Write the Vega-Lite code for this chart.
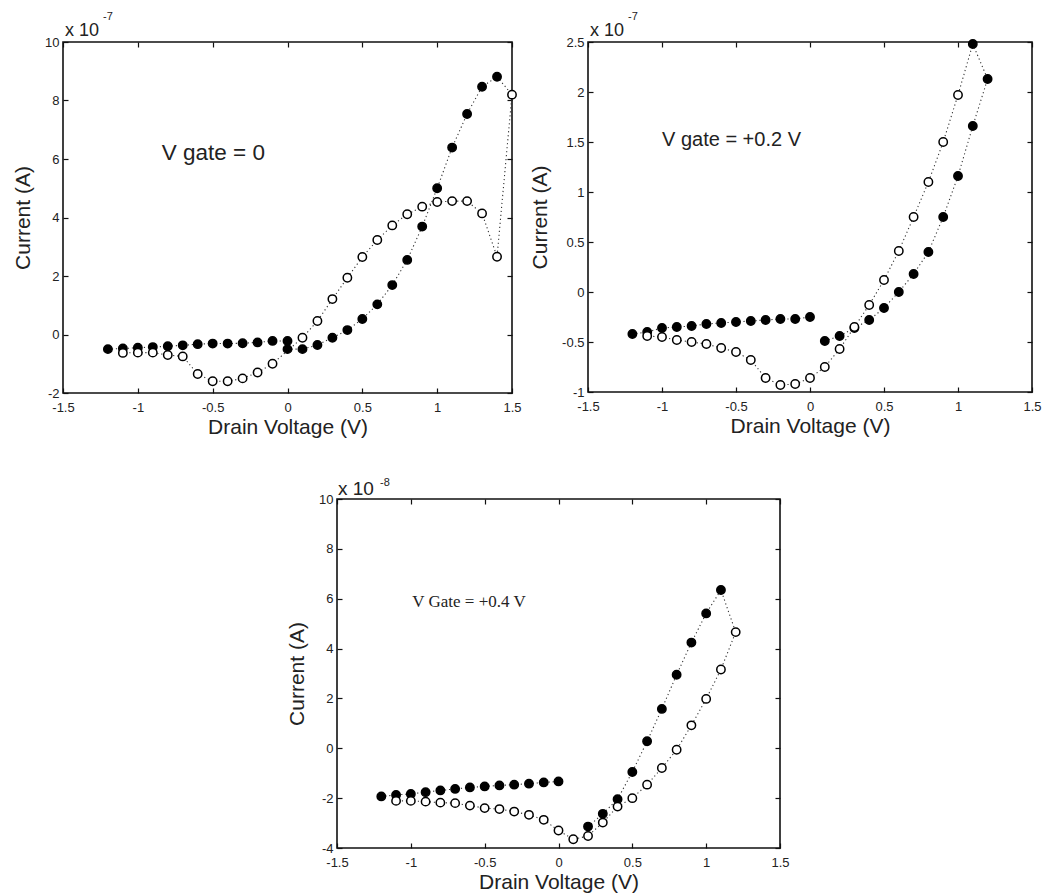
{
  "$schema": "https://vega.github.io/schema/vega-lite/v6.json",
  "background": "white",
  "padding": {"left": 11, "top": 10, "right": 2, "bottom": 2},
  "config": {
    "view": {"stroke": "#111", "strokeWidth": 1.6},
    "axis": {"grid": false, "domain": false, "tickColor": "#111", "tickSize": -5, "tickWidth": 1.2,
      "labelFont": "Liberation Sans", "labelFontSize": 13, "labelColor": "#222",
      "labelFlush": false, "labelOverlap": false,
      "titleFont": "Liberation Sans", "titleFontSize": 21, "titleFontWeight": "normal", "titleColor": "#222"},
    "axisX": {"titlePadding": 2, "labelPadding": 13},
    "axisY": {"titlePadding": 11, "labelPadding": 9},
    "text": {"font": "Liberation Sans", "color": "#222"}
  },
  "datasets": {
    "iv": [
      {"panel":"A","seg":"A1","ord":1,"voltage":-1.2,"current":-0.50,"sweep":"forward"},
      {"panel":"A","seg":"A1","ord":2,"voltage":-1.1,"current":-0.48,"sweep":"forward"},
      {"panel":"A","seg":"A1","ord":3,"voltage":-1.0,"current":-0.45,"sweep":"forward"},
      {"panel":"A","seg":"A1","ord":4,"voltage":-0.9,"current":-0.43,"sweep":"forward"},
      {"panel":"A","seg":"A1","ord":5,"voltage":-0.8,"current":-0.40,"sweep":"forward"},
      {"panel":"A","seg":"A1","ord":6,"voltage":-0.7,"current":-0.37,"sweep":"forward"},
      {"panel":"A","seg":"A1","ord":7,"voltage":-0.6,"current":-0.33,"sweep":"forward"},
      {"panel":"A","seg":"A1","ord":8,"voltage":-0.5,"current":-0.31,"sweep":"forward"},
      {"panel":"A","seg":"A1","ord":9,"voltage":-0.4,"current":-0.31,"sweep":"forward"},
      {"panel":"A","seg":"A1","ord":10,"voltage":-0.3,"current":-0.30,"sweep":"forward"},
      {"panel":"A","seg":"A1","ord":11,"voltage":-0.2,"current":-0.27,"sweep":"forward"},
      {"panel":"A","seg":"A1","ord":12,"voltage":-0.1,"current":-0.22,"sweep":"forward"},
      {"panel":"A","seg":"A1","ord":13,"voltage":0.0,"current":-0.22,"sweep":"forward"},
      {"panel":"A","seg":"A2","ord":1,"voltage":0.0,"current":-0.50,"sweep":"forward"},
      {"panel":"A","seg":"A2","ord":2,"voltage":0.1,"current":-0.50,"sweep":"forward"},
      {"panel":"A","seg":"A2","ord":3,"voltage":0.2,"current":-0.36,"sweep":"forward"},
      {"panel":"A","seg":"A2","ord":4,"voltage":0.3,"current":-0.11,"sweep":"forward"},
      {"panel":"A","seg":"A2","ord":5,"voltage":0.4,"current":0.15,"sweep":"forward"},
      {"panel":"A","seg":"A2","ord":6,"voltage":0.5,"current":0.53,"sweep":"forward"},
      {"panel":"A","seg":"A2","ord":7,"voltage":0.6,"current":1.03,"sweep":"forward"},
      {"panel":"A","seg":"A2","ord":8,"voltage":0.7,"current":1.69,"sweep":"forward"},
      {"panel":"A","seg":"A2","ord":9,"voltage":0.8,"current":2.55,"sweep":"forward"},
      {"panel":"A","seg":"A2","ord":10,"voltage":0.9,"current":3.69,"sweep":"forward"},
      {"panel":"A","seg":"A2","ord":11,"voltage":1.0,"current":5.00,"sweep":"forward"},
      {"panel":"A","seg":"A2","ord":12,"voltage":1.1,"current":6.39,"sweep":"forward"},
      {"panel":"A","seg":"A2","ord":13,"voltage":1.2,"current":7.54,"sweep":"forward"},
      {"panel":"A","seg":"A2","ord":14,"voltage":1.3,"current":8.47,"sweep":"forward"},
      {"panel":"A","seg":"A2","ord":15,"voltage":1.4,"current":8.81,"sweep":"forward"},
      {"panel":"A","seg":"A2","ord":16,"voltage":1.5,"current":8.20,"sweep":"reverse"},
      {"panel":"A","seg":"A2","ord":17,"voltage":1.4,"current":2.66,"sweep":"reverse"},
      {"panel":"A","seg":"A2","ord":18,"voltage":1.3,"current":4.14,"sweep":"reverse"},
      {"panel":"A","seg":"A2","ord":19,"voltage":1.2,"current":4.56,"sweep":"reverse"},
      {"panel":"A","seg":"A2","ord":20,"voltage":1.1,"current":4.56,"sweep":"reverse"},
      {"panel":"A","seg":"A2","ord":21,"voltage":1.0,"current":4.53,"sweep":"reverse"},
      {"panel":"A","seg":"A2","ord":22,"voltage":0.9,"current":4.37,"sweep":"reverse"},
      {"panel":"A","seg":"A2","ord":23,"voltage":0.8,"current":4.11,"sweep":"reverse"},
      {"panel":"A","seg":"A2","ord":24,"voltage":0.7,"current":3.73,"sweep":"reverse"},
      {"panel":"A","seg":"A2","ord":25,"voltage":0.6,"current":3.23,"sweep":"reverse"},
      {"panel":"A","seg":"A2","ord":26,"voltage":0.5,"current":2.65,"sweep":"reverse"},
      {"panel":"A","seg":"A2","ord":27,"voltage":0.4,"current":1.94,"sweep":"reverse"},
      {"panel":"A","seg":"A2","ord":28,"voltage":0.3,"current":1.21,"sweep":"reverse"},
      {"panel":"A","seg":"A2","ord":29,"voltage":0.2,"current":0.46,"sweep":"reverse"},
      {"panel":"A","seg":"A2","ord":30,"voltage":0.1,"current":-0.11,"sweep":"reverse"},
      {"panel":"A","seg":"A2","ord":31,"voltage":-0.1,"current":-1.00,"sweep":"reverse"},
      {"panel":"A","seg":"A2","ord":32,"voltage":-0.2,"current":-1.30,"sweep":"reverse"},
      {"panel":"A","seg":"A2","ord":33,"voltage":-0.3,"current":-1.50,"sweep":"reverse"},
      {"panel":"A","seg":"A2","ord":34,"voltage":-0.4,"current":-1.60,"sweep":"reverse"},
      {"panel":"A","seg":"A2","ord":35,"voltage":-0.5,"current":-1.60,"sweep":"reverse"},
      {"panel":"A","seg":"A2","ord":36,"voltage":-0.6,"current":-1.35,"sweep":"reverse"},
      {"panel":"A","seg":"A2","ord":37,"voltage":-0.7,"current":-0.75,"sweep":"reverse"},
      {"panel":"A","seg":"A2","ord":38,"voltage":-0.8,"current":-0.70,"sweep":"reverse"},
      {"panel":"A","seg":"A2","ord":39,"voltage":-0.9,"current":-0.62,"sweep":"reverse"},
      {"panel":"A","seg":"A2","ord":40,"voltage":-1.0,"current":-0.62,"sweep":"reverse"},
      {"panel":"A","seg":"A2","ord":41,"voltage":-1.1,"current":-0.63,"sweep":"reverse"},

      {"panel":"B","seg":"B1","ord":1,"voltage":-1.2,"current":-0.42,"sweep":"forward"},
      {"panel":"B","seg":"B1","ord":2,"voltage":-1.1,"current":-0.40,"sweep":"forward"},
      {"panel":"B","seg":"B1","ord":3,"voltage":-1.0,"current":-0.36,"sweep":"forward"},
      {"panel":"B","seg":"B1","ord":4,"voltage":-0.9,"current":-0.35,"sweep":"forward"},
      {"panel":"B","seg":"B1","ord":5,"voltage":-0.8,"current":-0.34,"sweep":"forward"},
      {"panel":"B","seg":"B1","ord":6,"voltage":-0.7,"current":-0.32,"sweep":"forward"},
      {"panel":"B","seg":"B1","ord":7,"voltage":-0.6,"current":-0.31,"sweep":"forward"},
      {"panel":"B","seg":"B1","ord":8,"voltage":-0.5,"current":-0.30,"sweep":"forward"},
      {"panel":"B","seg":"B1","ord":9,"voltage":-0.4,"current":-0.29,"sweep":"forward"},
      {"panel":"B","seg":"B1","ord":10,"voltage":-0.3,"current":-0.28,"sweep":"forward"},
      {"panel":"B","seg":"B1","ord":11,"voltage":-0.2,"current":-0.27,"sweep":"forward"},
      {"panel":"B","seg":"B1","ord":12,"voltage":-0.1,"current":-0.27,"sweep":"forward"},
      {"panel":"B","seg":"B1","ord":13,"voltage":0.0,"current":-0.25,"sweep":"forward"},
      {"panel":"B","seg":"B2","ord":1,"voltage":0.1,"current":-0.49,"sweep":"forward"},
      {"panel":"B","seg":"B2","ord":2,"voltage":0.2,"current":-0.44,"sweep":"forward"},
      {"panel":"B","seg":"B2","ord":3,"voltage":0.3,"current":-0.36,"sweep":"forward"},
      {"panel":"B","seg":"B2","ord":4,"voltage":0.4,"current":-0.28,"sweep":"forward"},
      {"panel":"B","seg":"B2","ord":5,"voltage":0.5,"current":-0.16,"sweep":"forward"},
      {"panel":"B","seg":"B2","ord":6,"voltage":0.6,"current":0.00,"sweep":"forward"},
      {"panel":"B","seg":"B2","ord":7,"voltage":0.7,"current":0.18,"sweep":"forward"},
      {"panel":"B","seg":"B2","ord":8,"voltage":0.8,"current":0.40,"sweep":"forward"},
      {"panel":"B","seg":"B2","ord":9,"voltage":0.9,"current":0.75,"sweep":"forward"},
      {"panel":"B","seg":"B2","ord":10,"voltage":1.0,"current":1.16,"sweep":"forward"},
      {"panel":"B","seg":"B2","ord":11,"voltage":1.1,"current":1.66,"sweep":"forward"},
      {"panel":"B","seg":"B2","ord":12,"voltage":1.2,"current":2.13,"sweep":"forward"},
      {"panel":"B","seg":"B2","ord":13,"voltage":1.1,"current":2.48,"sweep":"forward"},
      {"panel":"B","seg":"B2","ord":14,"voltage":1.0,"current":1.97,"sweep":"reverse"},
      {"panel":"B","seg":"B2","ord":15,"voltage":0.9,"current":1.50,"sweep":"reverse"},
      {"panel":"B","seg":"B2","ord":16,"voltage":0.8,"current":1.10,"sweep":"reverse"},
      {"panel":"B","seg":"B2","ord":17,"voltage":0.7,"current":0.75,"sweep":"reverse"},
      {"panel":"B","seg":"B2","ord":18,"voltage":0.6,"current":0.41,"sweep":"reverse"},
      {"panel":"B","seg":"B2","ord":19,"voltage":0.5,"current":0.12,"sweep":"reverse"},
      {"panel":"B","seg":"B2","ord":20,"voltage":0.4,"current":-0.13,"sweep":"reverse"},
      {"panel":"B","seg":"B2","ord":21,"voltage":0.3,"current":-0.35,"sweep":"reverse"},
      {"panel":"B","seg":"B2","ord":22,"voltage":0.2,"current":-0.57,"sweep":"reverse"},
      {"panel":"B","seg":"B2","ord":23,"voltage":0.1,"current":-0.75,"sweep":"reverse"},
      {"panel":"B","seg":"B2","ord":24,"voltage":0.0,"current":-0.86,"sweep":"reverse"},
      {"panel":"B","seg":"B2","ord":25,"voltage":-0.1,"current":-0.92,"sweep":"reverse"},
      {"panel":"B","seg":"B2","ord":26,"voltage":-0.2,"current":-0.93,"sweep":"reverse"},
      {"panel":"B","seg":"B2","ord":27,"voltage":-0.3,"current":-0.86,"sweep":"reverse"},
      {"panel":"B","seg":"B2","ord":28,"voltage":-0.4,"current":-0.68,"sweep":"reverse"},
      {"panel":"B","seg":"B2","ord":29,"voltage":-0.5,"current":-0.60,"sweep":"reverse"},
      {"panel":"B","seg":"B2","ord":30,"voltage":-0.6,"current":-0.56,"sweep":"reverse"},
      {"panel":"B","seg":"B2","ord":31,"voltage":-0.7,"current":-0.52,"sweep":"reverse"},
      {"panel":"B","seg":"B2","ord":32,"voltage":-0.8,"current":-0.50,"sweep":"reverse"},
      {"panel":"B","seg":"B2","ord":33,"voltage":-0.9,"current":-0.48,"sweep":"reverse"},
      {"panel":"B","seg":"B2","ord":34,"voltage":-1.0,"current":-0.45,"sweep":"reverse"},
      {"panel":"B","seg":"B2","ord":35,"voltage":-1.1,"current":-0.44,"sweep":"reverse"},

      {"panel":"C","seg":"C1","ord":1,"voltage":-1.2,"current":-1.93,"sweep":"forward"},
      {"panel":"C","seg":"C1","ord":2,"voltage":-1.1,"current":-1.87,"sweep":"forward"},
      {"panel":"C","seg":"C1","ord":3,"voltage":-1.0,"current":-1.83,"sweep":"forward"},
      {"panel":"C","seg":"C1","ord":4,"voltage":-0.9,"current":-1.76,"sweep":"forward"},
      {"panel":"C","seg":"C1","ord":5,"voltage":-0.8,"current":-1.69,"sweep":"forward"},
      {"panel":"C","seg":"C1","ord":6,"voltage":-0.7,"current":-1.63,"sweep":"forward"},
      {"panel":"C","seg":"C1","ord":7,"voltage":-0.6,"current":-1.57,"sweep":"forward"},
      {"panel":"C","seg":"C1","ord":8,"voltage":-0.5,"current":-1.53,"sweep":"forward"},
      {"panel":"C","seg":"C1","ord":9,"voltage":-0.4,"current":-1.49,"sweep":"forward"},
      {"panel":"C","seg":"C1","ord":10,"voltage":-0.3,"current":-1.46,"sweep":"forward"},
      {"panel":"C","seg":"C1","ord":11,"voltage":-0.2,"current":-1.42,"sweep":"forward"},
      {"panel":"C","seg":"C1","ord":12,"voltage":-0.1,"current":-1.37,"sweep":"forward"},
      {"panel":"C","seg":"C1","ord":13,"voltage":0.0,"current":-1.33,"sweep":"forward"},
      {"panel":"C","seg":"C2","ord":1,"voltage":0.2,"current":-3.14,"sweep":"forward"},
      {"panel":"C","seg":"C2","ord":2,"voltage":0.3,"current":-2.63,"sweep":"forward"},
      {"panel":"C","seg":"C2","ord":3,"voltage":0.4,"current":-2.04,"sweep":"forward"},
      {"panel":"C","seg":"C2","ord":4,"voltage":0.5,"current":-0.95,"sweep":"forward"},
      {"panel":"C","seg":"C2","ord":5,"voltage":0.6,"current":0.28,"sweep":"forward"},
      {"panel":"C","seg":"C2","ord":6,"voltage":0.7,"current":1.58,"sweep":"forward"},
      {"panel":"C","seg":"C2","ord":7,"voltage":0.8,"current":2.95,"sweep":"forward"},
      {"panel":"C","seg":"C2","ord":8,"voltage":0.9,"current":4.24,"sweep":"forward"},
      {"panel":"C","seg":"C2","ord":9,"voltage":1.0,"current":5.41,"sweep":"forward"},
      {"panel":"C","seg":"C2","ord":10,"voltage":1.1,"current":6.35,"sweep":"forward"},
      {"panel":"C","seg":"C2","ord":11,"voltage":1.2,"current":4.66,"sweep":"reverse"},
      {"panel":"C","seg":"C2","ord":12,"voltage":1.1,"current":3.16,"sweep":"reverse"},
      {"panel":"C","seg":"C2","ord":13,"voltage":1.0,"current":1.98,"sweep":"reverse"},
      {"panel":"C","seg":"C2","ord":14,"voltage":0.9,"current":0.92,"sweep":"reverse"},
      {"panel":"C","seg":"C2","ord":15,"voltage":0.8,"current":-0.06,"sweep":"reverse"},
      {"panel":"C","seg":"C2","ord":16,"voltage":0.7,"current":-0.79,"sweep":"reverse"},
      {"panel":"C","seg":"C2","ord":17,"voltage":0.6,"current":-1.46,"sweep":"reverse"},
      {"panel":"C","seg":"C2","ord":18,"voltage":0.5,"current":-2.00,"sweep":"reverse"},
      {"panel":"C","seg":"C2","ord":19,"voltage":0.4,"current":-2.34,"sweep":"reverse"},
      {"panel":"C","seg":"C2","ord":20,"voltage":0.3,"current":-2.98,"sweep":"reverse"},
      {"panel":"C","seg":"C2","ord":21,"voltage":0.2,"current":-3.52,"sweep":"reverse"},
      {"panel":"C","seg":"C2","ord":22,"voltage":0.1,"current":-3.65,"sweep":"reverse"},
      {"panel":"C","seg":"C2","ord":23,"voltage":0.0,"current":-3.30,"sweep":"reverse"},
      {"panel":"C","seg":"C2","ord":24,"voltage":-0.1,"current":-2.87,"sweep":"reverse"},
      {"panel":"C","seg":"C2","ord":25,"voltage":-0.2,"current":-2.67,"sweep":"reverse"},
      {"panel":"C","seg":"C2","ord":26,"voltage":-0.3,"current":-2.54,"sweep":"reverse"},
      {"panel":"C","seg":"C2","ord":27,"voltage":-0.4,"current":-2.44,"sweep":"reverse"},
      {"panel":"C","seg":"C2","ord":28,"voltage":-0.5,"current":-2.40,"sweep":"reverse"},
      {"panel":"C","seg":"C2","ord":29,"voltage":-0.6,"current":-2.30,"sweep":"reverse"},
      {"panel":"C","seg":"C2","ord":30,"voltage":-0.7,"current":-2.20,"sweep":"reverse"},
      {"panel":"C","seg":"C2","ord":31,"voltage":-0.8,"current":-2.18,"sweep":"reverse"},
      {"panel":"C","seg":"C2","ord":32,"voltage":-0.9,"current":-2.14,"sweep":"reverse"},
      {"panel":"C","seg":"C2","ord":33,"voltage":-1.0,"current":-2.11,"sweep":"reverse"},
      {"panel":"C","seg":"C2","ord":34,"voltage":-1.1,"current":-2.11,"sweep":"reverse"}
    ]
  },
  "spacing": 38,
  "resolve": {"scale": {"x": "independent", "y": "independent"}},
  "vconcat": [
    {
      "hconcat": [
        {
          "width": 449, "height": 351,
          "layer": [
            {"data": {"name": "iv"}, "transform": [{"filter": "datum.panel == 'A'"}],
             "mark": {"type": "line", "color": "#333", "strokeWidth": 1.1, "strokeDash": [1.2, 2.8]},
             "encoding": {
               "x": {"field": "voltage", "type": "quantitative", "scale": {"domain": [-1.5, 1.5], "nice": false, "zero": false},
                     "axis": {"values": [-1.5, -1, -0.5, 0, 0.5, 1, 1.5], "labelExpr": "'' + datum.value", "title": "Drain Voltage (V)"}},
               "y": {"field": "current", "type": "quantitative", "scale": {"domain": [-2, 10], "nice": false, "zero": false},
                     "axis": {"values": [-2, 0, 2, 4, 6, 8, 10], "labelExpr": "'' + datum.value", "title": "Current (A)"}},
               "detail": {"field": "seg"}, "order": {"field": "ord"}}},
            {"data": {"name": "iv"}, "transform": [{"filter": "datum.panel == 'A'"}],
             "mark": {"type": "point", "shape": "circle", "size": 70, "filled": true, "stroke": "black", "strokeWidth": 1.5, "opacity": 1},
             "encoding": {
               "x": {"field": "voltage", "type": "quantitative", "axis": {"orient": "top", "labels": false, "title": null, "values": [-1.5, -1, -0.5, 0, 0.5, 1, 1.5]}},
               "y": {"field": "current", "type": "quantitative", "axis": {"orient": "right", "labels": false, "title": null, "values": [-2, 0, 2, 4, 6, 8, 10]}},
               "fill": {"field": "sweep", "type": "nominal", "scale": {"domain": ["forward", "reverse"], "range": ["black", "white"]}, "legend": null}}},
            {"data": {"values": [{"label": "V gate = 0"}]},
             "mark": {"type": "text", "align": "left", "baseline": "middle", "fontSize": 22.5},
             "encoding": {"x": {"datum": -0.84, "axis": null}, "y": {"datum": 6.2, "axis": null}, "text": {"field": "label"}}},
            {"data": {"values": [{"label": "x 10"}]},
             "mark": {"type": "text", "align": "left", "baseline": "alphabetic", "fontSize": 18, "dx": 2, "dy": -6},
             "encoding": {"x": {"datum": -1.5, "axis": null}, "y": {"datum": 10, "axis": null}, "text": {"field": "label"}}},
            {"data": {"values": [{"label": "-7"}]},
             "mark": {"type": "text", "align": "left", "baseline": "alphabetic", "fontSize": 11, "dx": 40, "dy": -22},
             "encoding": {"x": {"datum": -1.5, "axis": null}, "y": {"datum": 10, "axis": null}, "text": {"field": "label"}}}
          ],
          "resolve": {"axis": {"x": "independent", "y": "independent"}}
        },
        {
          "width": 444, "height": 350,
          "layer": [
            {"data": {"name": "iv"}, "transform": [{"filter": "datum.panel == 'B'"}],
             "mark": {"type": "line", "color": "#333", "strokeWidth": 1.1, "strokeDash": [1.2, 2.8]},
             "encoding": {
               "x": {"field": "voltage", "type": "quantitative", "scale": {"domain": [-1.5, 1.5], "nice": false, "zero": false},
                     "axis": {"values": [-1.5, -1, -0.5, 0, 0.5, 1, 1.5], "labelExpr": "'' + datum.value", "title": "Drain Voltage (V)"}},
               "y": {"field": "current", "type": "quantitative", "scale": {"domain": [-1, 2.5], "nice": false, "zero": false},
                     "axis": {"values": [-1, -0.5, 0, 0.5, 1, 1.5, 2, 2.5], "labelExpr": "'' + datum.value", "title": "Current (A)"}},
               "detail": {"field": "seg"}, "order": {"field": "ord"}}},
            {"data": {"name": "iv"}, "transform": [{"filter": "datum.panel == 'B'"}],
             "mark": {"type": "point", "shape": "circle", "size": 70, "filled": true, "stroke": "black", "strokeWidth": 1.5, "opacity": 1},
             "encoding": {
               "x": {"field": "voltage", "type": "quantitative", "axis": {"orient": "top", "labels": false, "title": null, "values": [-1.5, -1, -0.5, 0, 0.5, 1, 1.5]}},
               "y": {"field": "current", "type": "quantitative", "axis": {"orient": "right", "labels": false, "title": null, "values": [-1, -0.5, 0, 0.5, 1, 1.5, 2, 2.5]}},
               "fill": {"field": "sweep", "type": "nominal", "scale": {"domain": ["forward", "reverse"], "range": ["black", "white"]}, "legend": null}}},
            {"data": {"values": [{"label": "V gate = +0.2 V"}]},
             "mark": {"type": "text", "align": "left", "baseline": "middle", "fontSize": 20},
             "encoding": {"x": {"datum": -1.0, "axis": null}, "y": {"datum": 1.52, "axis": null}, "text": {"field": "label"}}},
            {"data": {"values": [{"label": "x 10"}]},
             "mark": {"type": "text", "align": "left", "baseline": "alphabetic", "fontSize": 18, "dx": 2, "dy": -6},
             "encoding": {"x": {"datum": -1.5, "axis": null}, "y": {"datum": 2.5, "axis": null}, "text": {"field": "label"}}},
            {"data": {"values": [{"label": "-7"}]},
             "mark": {"type": "text", "align": "left", "baseline": "alphabetic", "fontSize": 11, "dx": 40, "dy": -22},
             "encoding": {"x": {"datum": -1.5, "axis": null}, "y": {"datum": 2.5, "axis": null}, "text": {"field": "label"}}}
          ],
          "resolve": {"axis": {"x": "independent", "y": "independent"}}
        }
      ],
      "spacing": 76,
      "bounds": "flush",
      "resolve": {"scale": {"x": "independent", "y": "independent"}}
    },
    {
      "hconcat": [
        {"width": 254, "height": 349, "view": {"stroke": null},
         "data": {"values": [{"label": ""}]},
         "mark": {"type": "text"},
         "encoding": {"text": {"field": "label"}}},
        {
          "width": 443, "height": 349,
          "layer": [
            {"data": {"name": "iv"}, "transform": [{"filter": "datum.panel == 'C'"}],
             "mark": {"type": "line", "color": "#333", "strokeWidth": 1.1, "strokeDash": [1.2, 2.8]},
             "encoding": {
               "x": {"field": "voltage", "type": "quantitative", "scale": {"domain": [-1.5, 1.5], "nice": false, "zero": false},
                     "axis": {"values": [-1.5, -1, -0.5, 0, 0.5, 1, 1.5], "labelExpr": "'' + datum.value", "title": "Drain Voltage (V)"}},
               "y": {"field": "current", "type": "quantitative", "scale": {"domain": [-4, 10], "nice": false, "zero": false},
                     "axis": {"values": [-4, -2, 0, 2, 4, 6, 8, 10], "labelExpr": "'' + datum.value", "title": "Current (A)"}},
               "detail": {"field": "seg"}, "order": {"field": "ord"}}},
            {"data": {"name": "iv"}, "transform": [{"filter": "datum.panel == 'C'"}],
             "mark": {"type": "point", "shape": "circle", "size": 70, "filled": true, "stroke": "black", "strokeWidth": 1.5, "opacity": 1},
             "encoding": {
               "x": {"field": "voltage", "type": "quantitative", "axis": {"orient": "top", "labels": false, "title": null, "values": [-1.5, -1, -0.5, 0, 0.5, 1, 1.5]}},
               "y": {"field": "current", "type": "quantitative", "axis": {"orient": "right", "labels": false, "title": null, "values": [-4, -2, 0, 2, 4, 6, 8, 10]}},
               "fill": {"field": "sweep", "type": "nominal", "scale": {"domain": ["forward", "reverse"], "range": ["black", "white"]}, "legend": null}}},
            {"data": {"values": [{"label": "V Gate = +0.4 V"}]},
             "mark": {"type": "text", "align": "left", "baseline": "middle", "fontSize": 17, "font": "Liberation Serif"},
             "encoding": {"x": {"datum": -0.99, "axis": null}, "y": {"datum": 5.86, "axis": null}, "text": {"field": "label"}}},
            {"data": {"values": [{"label": "x 10"}]},
             "mark": {"type": "text", "align": "left", "baseline": "alphabetic", "fontSize": 19, "dx": 1, "dy": -4},
             "encoding": {"x": {"datum": -1.5, "axis": null}, "y": {"datum": 10, "axis": null}, "text": {"field": "label"}}},
            {"data": {"values": [{"label": "-8"}]},
             "mark": {"type": "text", "align": "left", "baseline": "alphabetic", "fontSize": 11, "dx": 43, "dy": -13},
             "encoding": {"x": {"datum": -1.5, "axis": null}, "y": {"datum": 10, "axis": null}, "text": {"field": "label"}}}
          ],
          "resolve": {"axis": {"x": "independent", "y": "independent"}}
        }
      ],
      "spacing": 20,
      "bounds": "flush",
      "resolve": {"scale": {"x": "independent", "y": "independent"}}
    }
  ]
}
